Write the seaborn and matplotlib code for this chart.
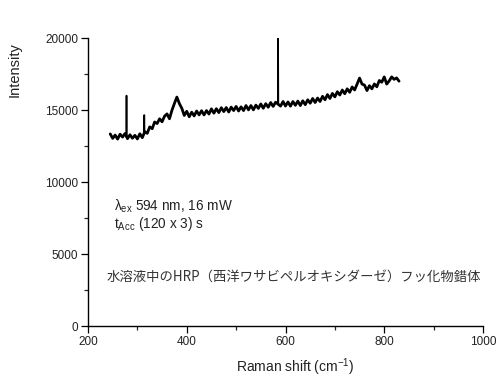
import numpy as np
import pandas as pd
import matplotlib
matplotlib.use("Agg")
import matplotlib.pyplot as plt
import seaborn as sns

# Raman shift (cm^-1) and intensity
shift = [245, 250, 255, 260, 265, 270, 275, 280, 285, 290, 295, 300, 305, 310,
         315, 320, 325, 330, 335, 340, 345, 350, 355, 360, 365, 370, 375, 380,
         385, 390, 395, 400, 405, 410, 415, 420, 425, 430, 435, 440, 445, 450,
         455, 460, 465, 470, 475, 480, 485, 490, 495, 500, 505, 510, 515, 520,
         525, 530, 535, 540, 545, 550, 555, 560, 565, 570, 575, 580, 590, 595,
         600, 605, 610, 615, 620, 625, 630, 635, 640, 645, 650, 655, 660, 665,
         670, 675, 680, 685, 690, 695, 700, 705, 710, 715, 720, 725, 730, 735,
         740, 745, 750, 755, 760, 765, 770, 775, 780, 785, 790, 795, 800, 805,
         810, 815, 820, 825, 830]
intensity = [13340, 13030, 13260, 12980, 13320, 13120, 13370, 13010, 13280, 13040,
             13240, 12990, 13350, 13080, 13500, 13380, 13830, 13700, 14170, 14060,
             14390, 14180, 14570, 14730, 14390, 14980, 15450, 15900, 15450, 15120,
             14620, 14910, 14530, 14850, 14590, 14930, 14660, 14950, 14660, 14960,
             14720, 15080, 14780, 15090, 14820, 15160, 14890, 15170, 14860, 15200,
             14960, 15250, 14930, 15220, 14960, 15310, 15010, 15310, 15010, 15340,
             15110, 15420, 15120, 15440, 15190, 15520, 15250, 15540, 15270, 15590,
             15275, 15560, 15265, 15590, 15325, 15620, 15310, 15640, 15370, 15710,
             15470, 15800, 15520, 15830, 15590, 15950, 15710, 16070, 15800, 16150,
             15910, 16270, 16040, 16390, 16130, 16470, 16230, 16600, 16390, 16800,
             17220, 16800, 16730, 16350, 16690, 16470, 16810, 16610, 17050, 16930,
             17300, 16800, 17020, 17300, 17130, 17230, 17000]
# narrow spikes (cosmic rays)
spike_id = [1, 1, 1, 2, 2, 2, 3, 3, 3]
spike_shift = [277.5, 278, 278.5, 313.5, 314, 314.5, 584.5, 585, 585.5]
spike_intensity = [13150, 16000, 13150, 13300, 14650, 13350, 15400, 20000, 15400]

x_ticks = [200, 400, 600, 800, 1000]
y_ticks = [0, 5000, 10000, 15000, 20000]

df = pd.DataFrame({"shift": shift, "intensity": intensity})
spikes = pd.DataFrame({"id": spike_id, "shift": spike_shift,
                       "intensity": spike_intensity})

sns.set_style("ticks")
plt.rcParams["font.family"] = ["Liberation Sans", "Noto Sans CJK JP", "DejaVu Sans"]
plt.rcParams["mathtext.fontset"] = "custom"
plt.rcParams["mathtext.rm"] = "Liberation Sans"
plt.rcParams["mathtext.it"] = "Liberation Sans"

fig = plt.figure(figsize=(5.0, 3.87), dpi=100)
ax = fig.add_axes([0.176, 0.1576, 0.79, 0.7442])

sns.lineplot(data=df, x="shift", y="intensity", ax=ax, color="black",
             linewidth=2.0, sort=False, estimator=None)
sns.lineplot(data=spikes, x="shift", y="intensity", units="id", ax=ax,
             color="black", linewidth=1.2, sort=False, estimator=None)

ax.set_xlim(200, 1000)
ax.set_ylim(0, 20000)
ax.set_xticks(x_ticks)
ax.set_yticks(y_ticks)
ax.set_xticks([300, 500, 700, 900], minor=True)
ax.set_yticks([2500, 7500, 12500, 17500], minor=True)
ax.tick_params(axis="both", which="major", length=5, width=0.9, labelsize=8.5,
               pad=2, colors="black")
ax.tick_params(axis="both", which="minor", length=3, width=0.9)
for lab in ax.get_xticklabels() + ax.get_yticklabels():
    lab.set_color("#222222")
sns.despine(ax=ax)
for s in ["left", "bottom"]:
    ax.spines[s].set_linewidth(1.0)
    ax.spines[s].set_color("black")
ax.set_xlabel("")
ax.set_ylabel("")

fig.text(0.03, 0.82, "Intensity", rotation=90, ha="center", va="center",
         fontsize=10.5, color="#222222")
fig.text(0.59, 0.052, r"Raman shift (cm$^{-1}$)", ha="center", va="center",
         fontsize=10, color="#222222")

fig.text(0.228, 0.456, r"$\lambda_{\rm ex}$ 594 nm, 16 mW", ha="left",
         va="baseline", fontsize=9.8, color="#222222")
fig.text(0.228, 0.41, r"t$_{\rm Acc}$ (120 x 3) s", ha="left",
         va="baseline", fontsize=9.8, color="#222222")
fig.text(0.214, 0.284, "水溶液中のHRP（西洋ワサビペルオキシダーゼ）フッ化物錯体",
         ha="left", va="center", fontsize=9.6, color="#333333",
         family=["Noto Sans CJK JP", "DejaVu Sans"])

fig.savefig("out.png", dpi=100)
